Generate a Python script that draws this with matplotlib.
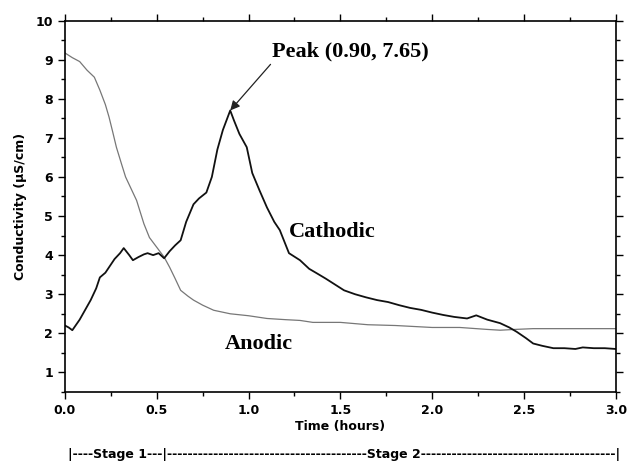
import numpy as np
import matplotlib.pyplot as plt
from matplotlib.ticker import MultipleLocator

# Cathodic conductivity (black curve)
t_cath = [0.00, 0.02, 0.04, 0.08, 0.11, 0.14, 0.17, 0.19, 0.22, 0.24, 0.27, 0.30, 0.32,
          0.35, 0.37, 0.40, 0.43, 0.45, 0.48, 0.51, 0.54, 0.57, 0.60, 0.63, 0.66, 0.70,
          0.73, 0.77, 0.80, 0.83, 0.86, 0.88, 0.90, 0.92, 0.95, 0.99, 1.02, 1.06, 1.10,
          1.14, 1.17, 1.22, 1.28, 1.33, 1.37, 1.42, 1.46, 1.52, 1.58, 1.64, 1.70, 1.76,
          1.82, 1.88, 1.94, 2.00, 2.06, 2.12, 2.19, 2.24, 2.30, 2.37, 2.42, 2.46, 2.51,
          2.55, 2.60, 2.66, 2.72, 2.78, 2.82, 2.88, 2.94, 3.00]
c_cath = [2.20, 2.15, 2.08, 2.35, 2.60, 2.85, 3.15, 3.43, 3.55, 3.69, 3.90, 4.05, 4.18,
          4.00, 3.87, 3.95, 4.02, 4.05, 4.00, 4.05, 3.92, 4.10, 4.25, 4.38, 4.85, 5.30,
          5.45, 5.60, 6.00, 6.70, 7.20, 7.45, 7.70, 7.45, 7.10, 6.76, 6.10, 5.65, 5.22,
          4.85, 4.64, 4.05, 3.87, 3.65, 3.54, 3.40, 3.28, 3.10, 3.00, 2.92, 2.85, 2.80,
          2.72, 2.65, 2.60, 2.53, 2.47, 2.42, 2.38, 2.46, 2.35, 2.26, 2.15, 2.04, 1.88,
          1.74, 1.68, 1.62, 1.62, 1.60, 1.64, 1.62, 1.62, 1.60]

# Anodic conductivity (gray curve)
t_anod = [0.00, 0.04, 0.08, 0.12, 0.16, 0.19, 0.22, 0.24, 0.26, 0.28, 0.31, 0.33, 0.36,
          0.39, 0.43, 0.46, 0.50, 0.54, 0.57, 0.60, 0.63, 0.67, 0.70, 0.75, 0.81, 0.90,
          1.00, 1.10, 1.20, 1.28, 1.35, 1.50, 1.65, 1.80, 2.00, 2.15, 2.30, 2.37, 2.45,
          2.55, 2.70, 2.85, 3.00]
c_anod = [9.17, 9.05, 8.95, 8.73, 8.55, 8.22, 7.85, 7.53, 7.15, 6.76, 6.30, 6.00, 5.70,
          5.40, 4.80, 4.45, 4.20, 3.95, 3.69, 3.40, 3.10, 2.95, 2.85, 2.72, 2.59, 2.50,
          2.45, 2.38, 2.35, 2.33, 2.28, 2.28, 2.22, 2.20, 2.15, 2.15, 2.10, 2.08, 2.10,
          2.12, 2.12, 2.12, 2.12]

peak_t, peak_c = 0.90, 7.65

fig = plt.figure(figsize=(6.29, 4.61), dpi=100)
ax = fig.add_axes([0.1033, 0.1497, 0.8757, 0.8058])

ax.plot(t_anod, c_anod, color='#777777', linewidth=0.9)
ax.plot(t_cath, c_cath, color='#111111', linewidth=1.3)

ax.set_xlim(0, 3.0)
ax.set_ylim(0.5, 10)
ax.xaxis.set_major_locator(MultipleLocator(0.5))
ax.xaxis.set_minor_locator(MultipleLocator(0.25))
ax.yaxis.set_minor_locator(MultipleLocator(0.5))
ax.set_yticks(np.arange(1, 11, 1))
ax.xaxis.set_major_formatter(plt.FormatStrFormatter('%.1f'))
ax.tick_params(which='both', direction='out', top=True, right=True,
               labelsize=9, width=1.0)
ax.tick_params(which='major', length=5)
ax.tick_params(which='minor', length=3)
for lab in ax.get_xticklabels() + ax.get_yticklabels():
    lab.set_fontweight('bold')
for sp in ax.spines.values():
    sp.set_linewidth(1.2)

ax.set_xlabel('Time (hours)', fontsize=9, fontweight='bold', labelpad=2)
ax.set_ylabel('Conductivity (\u00b5S/cm)', fontsize=9, fontweight='bold', labelpad=6)

serif = dict(family='Liberation Serif', fontweight='bold', fontsize=16)
ax.annotate('Peak (0.90, 7.65)', xy=(peak_t, peak_c + 0.05), xytext=(1.13, 8.95),
            ha='left', va='bottom',
            arrowprops=dict(arrowstyle='-|>', color='#222222', lw=0.9,
                            mutation_scale=14, shrinkA=0, shrinkB=0,
                            relpos=(0.02, 0.15)),
            **serif)
ax.text(1.22, 4.58, 'Cathodic', ha='left', va='center', **serif)
ax.text(0.87, 1.74, 'Anodic', ha='left', va='center', **serif)

# stage bar below the axis
stage = '|----Stage 1---|' + '-' * 39 + 'Stage 2' + '-' * 38 + '|'
fig.text(0.108, 0.0, stage, ha='left', va='bottom', fontsize=9, fontweight='bold')

fig.savefig('out.png', dpi=100)
